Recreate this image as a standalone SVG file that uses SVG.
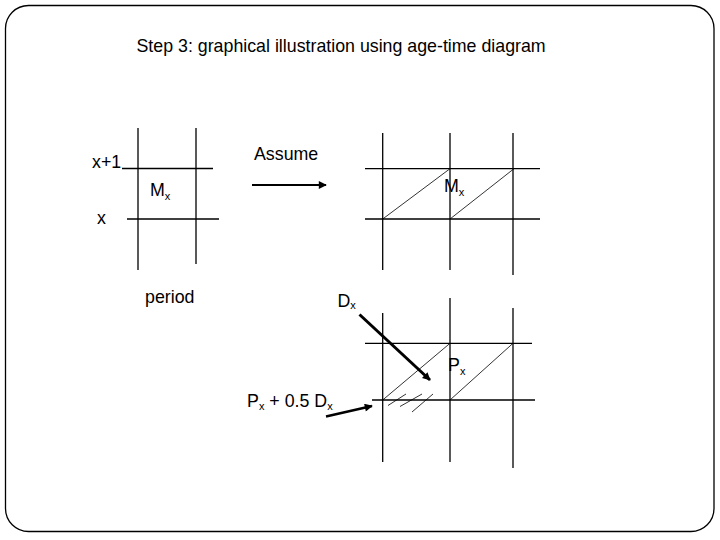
<svg xmlns="http://www.w3.org/2000/svg" width="720" height="540" viewBox="0 0 720 540">
  <style>
    text { font-family: "Liberation Sans", Arial, sans-serif; font-size: 17.8px; fill: #000; }
    .sub { font-size: 11px; }
    .grid line { stroke: #000; stroke-width: 1.3; }
    .diag line { stroke: #000; stroke-width: 0.8; }
    .arrow { stroke: #000; fill: none; }
  </style>
  <defs>
    <marker id="head" viewBox="0 0 10 10" refX="9" refY="5" markerWidth="9" markerHeight="8" markerUnits="userSpaceOnUse" orient="auto">
      <path d="M0,0 L10,5 L0,10 z" fill="#000"/>
    </marker>
  </defs>

  <rect id="frame" x="5.5" y="5.5" width="708.5" height="526" rx="23" ry="23" fill="#fff" stroke="#000" stroke-width="1.3"/>

  <g id="title">
    <text x="136.5" y="52">Step 3: graphical illustration using age-time diagram</text>
  </g>

  <g id="grid1" class="grid">
    <line x1="138" y1="128" x2="138" y2="270"/>
    <line x1="196" y1="128" x2="196" y2="264"/>
    <line x1="122" y1="168.5" x2="213" y2="168.5"/>
    <line x1="127" y1="219" x2="219" y2="219"/>
    <text x="92" y="168">x+1</text>
    <text x="97" y="224">x</text>
    <text x="150" y="196">M<tspan class="sub" dy="4">x</tspan></text>
    <text x="145" y="303">period</text>
  </g>

  <g id="grid2" class="grid">
    <line x1="382.7" y1="133" x2="382.7" y2="270"/>
    <line x1="450" y1="133" x2="450" y2="270"/>
    <line x1="513" y1="133" x2="513" y2="275"/>
    <line x1="365" y1="168.7" x2="540" y2="168.7"/>
    <line x1="365" y1="219" x2="540" y2="219"/>
    <g class="diag">
      <line x1="382.7" y1="219" x2="450" y2="168.7"/>
      <line x1="450" y1="219" x2="514" y2="168.7"/>
    </g>
    <text x="444" y="192">M<tspan class="sub" dy="3.5">x</tspan></text>
    <text x="254" y="160">Assume</text>
  </g>

  <g id="grid3" class="grid">
    <line x1="382.7" y1="313" x2="382.7" y2="462"/>
    <line x1="450" y1="298" x2="450" y2="462"/>
    <line x1="513" y1="308" x2="513" y2="468"/>
    <line x1="365" y1="343.3" x2="532" y2="343.3"/>
    <line x1="372" y1="400" x2="535" y2="400"/>
    <g class="diag">
      <line x1="382.7" y1="400" x2="450" y2="343.3"/>
      <line x1="450" y1="400" x2="513" y2="343.3"/>
      <line x1="388" y1="405.5" x2="406" y2="394"/>
      <line x1="400" y1="406.5" x2="422" y2="394"/>
      <line x1="412" y1="412" x2="433" y2="394"/>
    </g>
    <text x="337.5" y="307">D<tspan class="sub" dy="2">x</tspan></text>
    <text x="448" y="371">P<tspan class="sub" dy="4">x</tspan></text>
    <text x="247" y="407">P<tspan class="sub" dy="2.5">x</tspan><tspan dy="-2.5"> + 0.5 D</tspan><tspan class="sub" dy="2.5">x</tspan></text>
  </g>

  <g id="connectors">
    <line class="arrow" x1="252" y1="185" x2="326" y2="185" stroke-width="2" marker-end="url(#head)"/>
    <line class="arrow" x1="359.5" y1="314.5" x2="430" y2="380" stroke-width="3" marker-end="url(#head)"/>
    <line class="arrow" x1="326" y1="416.5" x2="372" y2="406" stroke-width="2.5" marker-end="url(#head)"/>
  </g>
</svg>
